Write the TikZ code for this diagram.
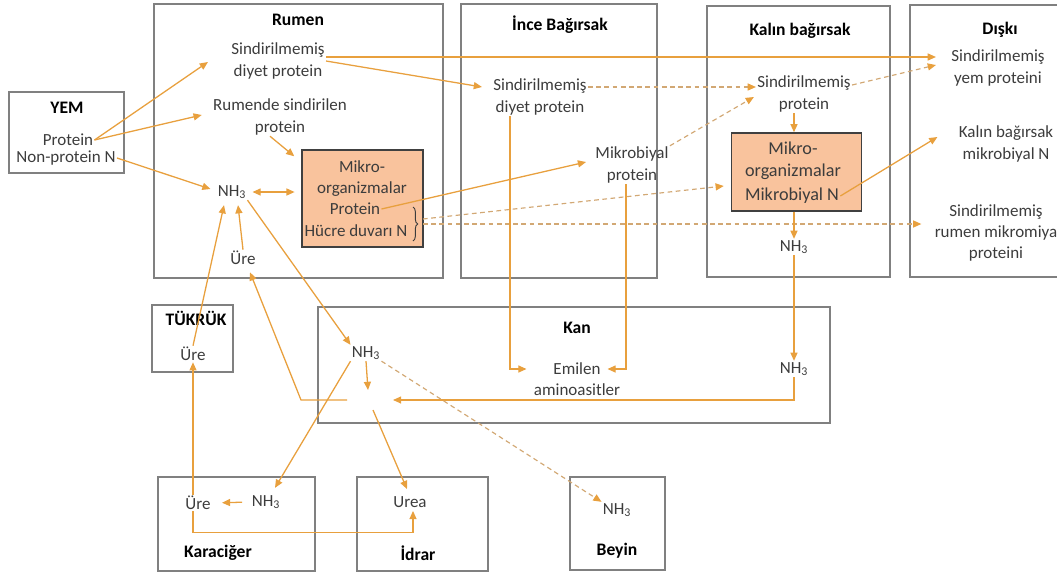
\documentclass[tikz,border=0pt]{standalone}
\usepackage{fontspec}
\setmainfont{Carlito}
\usetikzlibrary{arrows.meta,calc,decorations.pathreplacing}

\definecolor{flow}{HTML}{E8A03E}
\definecolor{flowdash}{HTML}{D2A874}
\definecolor{mikfill}{HTML}{F9C39D}
\definecolor{organline}{HTML}{808080}
\definecolor{txtgrey}{HTML}{3C3C3C}

\tikzset{
  organ/.style={draw=organline, line width=1.2pt},
  title/.style={font=\fontsize{15}{18}\selectfont\bfseries, text=black, inner sep=1pt},
  lbl/.style={font=\fontsize{14.5}{18}\selectfont, text=txtgrey, align=center, inner sep=1pt},
  mikbox/.style={draw=black!75, line width=1.2pt, fill=mikfill},
  flow/.style={draw=flow, line width=1.1pt, -{Triangle[length=7pt,width=6pt]}},
  flowdashed/.style={draw=flowdash, line width=1pt, dash pattern=on 4pt off 3pt,
    -{Triangle[length=7pt,width=6pt,color=flow]}},
}

\begin{document}
\begin{tikzpicture}[x=0.03cm, y=-0.03cm]
    \useasboundingbox (0,0) rectangle (1057,579);

    % organ boxes
    \draw [organ] (9,92) rectangle (124,173);
    \draw [organ] (154,4) rectangle (443,278);
    \draw [organ] (461,4) rectangle (657,278);
    \draw [organ] (707,6) rectangle (890,277);
    \draw [organ] (1057,5) -- (910,5) -- (910,277) -- (1057,277);
    \draw [organ] (152,305) rectangle (233,372);
    \draw [organ] (318,307) rectangle (830,423);
    \draw [organ] (158,477) rectangle (315,571);
    \draw [organ] (357,477) rectangle (488,571);
    \draw [organ] (570,477) rectangle (665,570);

    % feed
    \node [title] (yemt) at (67,108) {YEM};
    \node [lbl] (yprot) at (68,140) {Protein};
    \node [lbl] (ynpn) at (66,158) {Non-protein N};

    % rumen
    \node [title] (rument) at (298,20) {Rumen};
    \node [lbl] (rsd) at (278,61) {Sindirilmemiş\\diyet protein};
    \node [lbl] (rsp) at (280,117) {Rumende sindirilen\\protein};
    \node [lbl] (rnh) at (232,192) {NH\textsubscript{3}};
    \node [lbl] (rure) at (243,258) {Üre};
    \node [mikbox, minimum width=3.63cm, minimum height=2.91cm] (rmik) at (362.5,198.5) {};
    \node [lbl] (rmikt) at (362,179) {Mikro-\\organizmalar};
    \node [lbl] (rprot) at (355,209) {Protein};
    \node [lbl] (rhucre) at (356,231) {Hücre duvarı N};
    \draw [txtgrey, line width=0.8pt, decorate, decoration={brace, amplitude=0.14cm}]
        (413,207) -- (413,241);
    \coordinate (brc) at (421,223);

    % small intestine
    \node [title] (incet) at (560,25) {İnce Bağırsak};
    \node [lbl] (isd) at (540,97) {Sindirilmemiş\\diyet protein};
    \node [lbl] (imp) at (632,165) {Mikrobiyal\\protein};

    % large intestine
    \node [title] (kalint) at (800,31) {Kalın bağırsak};
    \node [lbl] (ksp) at (804,94) {Sindirilmemiş\\protein};
    \node [mikbox, minimum width=3.9cm, minimum height=2.34cm] (kmik) at (796.5,172) {};
    \node [lbl, font=\fontsize{15.5}{19}\selectfont] (kmikt) at (793,161) {Mikro-\\organizmalar};
    \node [lbl, font=\fontsize{15.5}{19}\selectfont] (kmn) at (792,196) {Mikrobiyal N};
    \node [lbl] (knh) at (794,247) {NH\textsubscript{3}};

    % faeces
    \node [title] (diskit) at (1000,30) {Dışkı};
    \node [lbl] (dsy) at (998,68) {Sindirilmemiş\\yem proteini};
    \node [lbl] (dkm) at (1006,144) {Kalın bağırsak\\mikrobiyal N};
    \node [lbl] (dsr) at (996,233) {Sindirilmemiş\\rumen mikromiya\\proteini};

    % saliva
    \node [title] (tukt) at (196,318) {TÜKRÜK};
    \node [lbl] (ture) at (193,354) {Üre};

    % blood
    \node [title] (kant) at (577,328) {Kan};
    \node [lbl] (bnh) at (366,353) {NH\textsubscript{3}};
    \node [lbl] (bem) at (577,379) {Emilen\\aminoasitler};
    \node [lbl] (bnh2) at (794,369) {NH\textsubscript{3}};
    \coordinate (jn) at (370,400);

    % liver, urine, brain
    \node [lbl] (lure) at (198,503) {Üre};
    \node [lbl] (lnh) at (266,502) {NH\textsubscript{3}};
    \node [title] (karat) at (218,553) {Karaciğer};
    \node [lbl] (uurea) at (410,502) {Urea};
    \node [title] (idrart) at (418,553) {İdrar};
    \node [lbl] (enh) at (617,510) {NH\textsubscript{3}};
    \node [title] (beyint) at (617,551) {Beyin};

    % feed into rumen
    \draw [flow] (yprot.east) -- ($(rsd.west)+(-22,1)$);
    \draw [flow] (yprot.east) -- ($(rsp.west)+(-10,-2)$);
    \draw [flow] (ynpn.east) -- ($(rnh.west)+(-6,-3)$);

    % inside rumen
    \draw [flow] ($(rsp.south)+(-10,0)$) -- ($(rmik.north west)+(-7,7)$);
    \draw [flow, {Triangle[length=7pt,width=6pt]}-{Triangle[length=7pt,width=6pt]},
        shorten <=0.15cm, shorten >=0.2cm] (rnh.east) -- (rnh.east -| rmik.west);
    \draw [flow] (rure.north) -- ($(rnh.south)+(6,5)$);
    \draw [flow] (ture.north) -- ($(rnh.south)+(-8,5)$);
    \draw [flow] (rnh.south east) -- (bnh.north west);

    % rumen outflow
    \draw [flow] ($(rsd.east)+(0,-4)$) -- ($(dsy.west)+(-14,-11)$);
    \draw [flow] (rsd.east) -- ($(isd.west)+(-10,-10)$);
    \draw [flow] (rprot.east) -- ($(imp.west)+(-8,-3)$);
    \draw [flowdashed] ($(brc)+(2,-4)$) -- ($(kmik.west)+(-7,14)$);
    \draw [flowdashed] ($(brc)+(2,1)$) -- ($(dsr.west)+(-12,-9)$);

    % intestines
    \draw [flowdashed] ($(isd.east)+(0,-10)$) -- ($(ksp.west)+(0,-7)$);
    \draw [flowdashed] (imp.north east) -- ($(ksp.west)+(-2,3)$);
    \draw [flowdashed] ($(ksp.east)+(0,-9)$) -- ($(dsy.west)+(-14,-3)$);
    \draw [flow] (ksp.south -| knh) -- (kmik.north -| knh);
    \draw [flow] (kmik.south -| knh) -- (knh.north);
    \draw [flow] (kmn.east) -- ($(dkm.west)+(-20,-7)$);
    \draw [flow] (knh.south) -- (bnh2.north);

    % absorption
    \draw [flow] ($(isd.south)+(-30,0)$) |- ($(bem.west)+(-6,-10)$);
    \draw [flow] ($(imp.south)+(-6,0)$) |- ($(bem.east)+(-14,-10)$);
    \draw [flow] (bnh2.south) |- ($(jn)+(23,0)$);
    \draw [flow] (bnh.south) -- ($(jn)+(-2,-10)$);

    % recycling
    \draw [flow] ($(jn)+(-23,0)$) -- ($(jn)+(-69,0)$) -- ($(rure.south)+(7,6)$);
    \draw [flow] ($(jn)+(3,10)$) -- ($(uurea.north)+(-3,-6)$);
    \draw [flow] (bnh.south west) -- ($(lnh.north)+(9,-6)$);
    \draw [flowdashed] (bnh.south east) -- (enh.north west);
    \draw [flow, shorten <=0.25cm, shorten >=0.3cm] (lnh.west) -- (lure.east);
    \draw [flow] (lure.north -| ture) -- (ture.south);
    \draw [flow] (lure.south -| ture) -- ++(0,21) -| ($(uurea.south)+(3,2)$);
\end{tikzpicture}
\end{document}
